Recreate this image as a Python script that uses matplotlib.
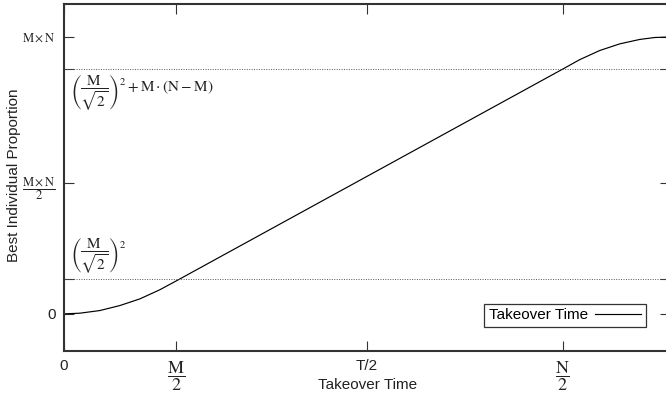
import matplotlib
matplotlib.use("Agg")
import matplotlib.pyplot as plt

plt.rcParams['font.family'] = ['Liberation Sans', 'DejaVu Sans']
plt.rcParams['mathtext.fontset'] = 'stix'

# curve (time as fraction of T, proportion as fraction of M*N)
time_frac = [0, 0.026, 0.059, 0.092, 0.125, 0.158, 0.186, 0.823, 0.851, 0.884, 0.917, 0.950, 0.975, 1.0]
best_prop = [0, 0.0025, 0.012, 0.030, 0.054, 0.087, 0.120, 0.884, 0.918, 0.951, 0.975, 0.991, 0.998, 1.0]

x_ticks = [0, 0.185, 0.5, 0.823, 1.0]
x_labels = ['0', r'$\dfrac{\mathrm{M}}{2}$', 'T/2', r'$\dfrac{\mathrm{N}}{2}$', 'T']
y_ticks = [0, 0.126, 0.473, 0.884, 1.0]
y_labels = ['0', '', r'$\dfrac{\mathrm{M\times N}}{2}$', '', r'$\mathrm{M\times N}$']
low_level = 0.126
high_level = 0.884

fig = plt.figure(figsize=(6.66, 3.99), dpi=100)
ax = fig.add_axes([64/666, 48/399, 606/666, 347/399])

line, = ax.plot(time_frac, best_prop, color='black', lw=0.85, label='Takeover Time')

# dotted reference levels
ax.axhline(low_level, color='#555555', lw=0.7, ls=(0, (1, 1.5)))
ax.axhline(high_level, color='#555555', lw=0.7, ls=(0, (1, 1.5)))

ax.text(0.010, 0.212, r'$\left(\dfrac{\mathrm{M}}{\sqrt{2}}\right)^2$', fontsize=11,
        ha='left', va='center', color='#222222')
ax.text(0.010, 0.798, r'$\left(\dfrac{\mathrm{M}}{\sqrt{2}}\right)^2 + \mathrm{M}\cdot(\mathrm{N}-\mathrm{M})$',
        fontsize=11, ha='left', va='center', color='#222222')

ax.set_xlim(0, 1)
ax.set_ylim(-0.134, 1.119)
ax.set_xticks(x_ticks)
ax.set_xticklabels(x_labels)
ax.set_yticks(y_ticks)
ax.set_yticklabels(y_labels)

for lab in ax.get_xticklabels():
    lab.set_color('#222222')
    lab.set_fontsize(13 if '$' in lab.get_text() else 11)
for lab in ax.get_yticklabels():
    lab.set_color('#222222')
    lab.set_fontsize(9 if '$' in lab.get_text() else 11)

ax.tick_params(direction='in', length=7, width=0.8, color='#333333',
               top=True, right=True, pad=6)
for sp in ax.spines.values():
    sp.set_linewidth(1.5)
    sp.set_color('#333333')

fig.text(14/666, 1 - 175/399, 'Best Individual Proportion', rotation=90,
         ha='center', va='center', fontsize=11, color='#222222')
fig.text(368/666, 1 - 385/399, 'Takeover Time', ha='center', va='center',
         fontsize=11, color='#222222')

leg = ax.legend(handles=[line], loc='lower right', bbox_to_anchor=(0.960, 0.069),
                markerfirst=False, fancybox=False, framealpha=1, edgecolor='#333333',
                fontsize=11, handlelength=3, borderpad=0.3, borderaxespad=0,
                handletextpad=0.5)
leg.get_frame().set_linewidth(0.9)

fig.savefig('out.png', dpi=100)
